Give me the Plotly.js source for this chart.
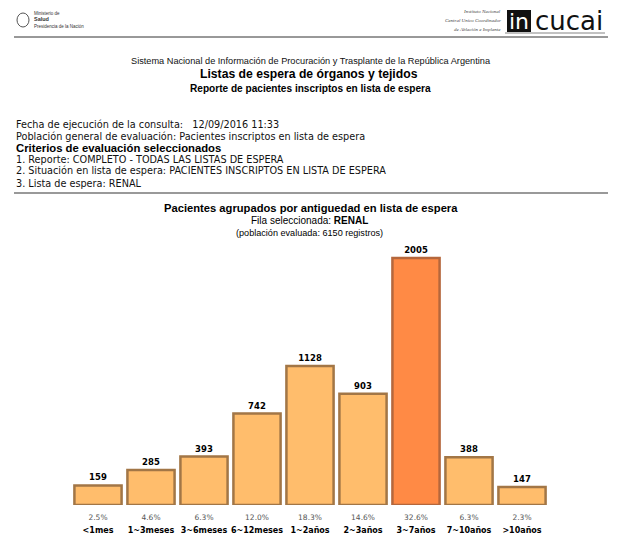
<!DOCTYPE html>
<html><head><meta charset="utf-8">
<script src="https://cdn.plot.ly/plotly-3.0.1.min.js"></script>
<style>html,body{margin:0;padding:0;background:#fff;}#chart{width:623px;height:551px;}</style>
</head><body><div id="chart"></div>
<script>
const categories = ['<1mes','1~3meses','3~6meses','6~12meses','1~2años','2~3años','3~7años','7~10años','>10años'];
const counts = [159, 285, 393, 742, 1128, 903, 2005, 388, 147];
const percents = ['2.5%','4.6%','6.3%','12.0%','18.3%','14.6%','32.6%','6.3%','2.3%'];
const highlighted = '3~7años';

const W = 623, H = 551, MB = 46, PH = H - MB;
const px = x => x / W;
const py = y => (PH - y) / PH;

const fill = categories.map(c => c === highlighted ? '#FF8A45' : '#FFBD6C');
const edge = categories.map(c => c === highlighted ? '#B5673C' : '#A27646');

const ticktext = categories.map((c, i) =>
  '<span style="font-size:7.5px;color:#555">' + percents[i] + '</span><br><b><span style="font-size:8px">' +
  c.replace('<','&lt;').replace('>','&gt;') + '</span></b>');

const trace = {
  type: 'bar', x: categories, y: counts,
  marker: {color: fill, line: {color: edge, width: 2.5}},
  texttemplate: '<b>%{y}</b>', textposition: 'outside',
  textfont: {family: 'DejaVu Sans', size: 8.5, color: '#000'},
  cliponaxis: false, hoverinfo: 'none'
};

const A = (x, y, text, o) => Object.assign({xref:'paper', yref:'paper', x: px(x), y: py(y), text: text,
  showarrow:false, xanchor:'center', yanchor:'middle', font:{family:'Liberation Sans', size:10, color:'#000'}}, o||{});
const verd = {family:'DejaVu Sans', size:9.7, color:'#111'};

const annotations = [
  A(311, 61, 'Sistema Nacional de Información de Procuración y Trasplante de la República Argentina', {font:{family:'Liberation Sans', size:9.2, color:'#111'}}),
  A(309, 74, '<b>Listas de espera de órganos y tejidos</b>', {font:{family:'Liberation Sans', size:12.2, color:'#000'}}),
  A(310, 88, '<b>Reporte de pacientes inscriptos en lista de espera</b>', {font:{family:'Liberation Sans', size:10.1, color:'#000'}}),
  A(14, 124, 'Fecha de ejecución de la consulta:   12/09/2016 11:33', {xanchor:'left', font:verd}),
  A(14, 136, 'Población general de evaluación: Pacientes inscriptos en lista de espera', {xanchor:'left', font:verd}),
  A(14, 148, '<b>Criterios de evaluación seleccionados</b>', {xanchor:'left', font:{family:'Liberation Sans', size:11.3, color:'#000'}}),
  A(14, 160, '1. Reporte: COMPLETO - TODAS LAS LISTAS DE ESPERA', {xanchor:'left', font:verd}),
  A(14, 171, '2. Situación en lista de espera: PACIENTES INSCRIPTOS EN LISTA DE ESPERA', {xanchor:'left', font:verd}),
  A(14, 183, '3. Lista de espera: RENAL', {xanchor:'left', font:verd}),
  A(311, 208, '<b>Pacientes agrupados por antiguedad en lista de espera</b>', {font:{family:'Liberation Sans', size:11.2, color:'#000'}}),
  A(309, 220, 'Fila seleccionada: <b>RENAL</b>', {font:{family:'Liberation Sans', size:10, color:'#000'}}),
  A(309, 233, '(población evaluada: 6150 registros)', {font:{family:'Liberation Sans', size:9.1, color:'#000'}}),
  // logos
  A(32, 13, 'Ministerio de', {xanchor:'left', font:{family:'Liberation Sans', size:4.5, color:'#333'}}),
  A(32, 19, '<b>Salud</b>', {xanchor:'left', font:{family:'Liberation Sans', size:5.5, color:'#333'}}),
  A(32, 26, 'Presidencia de la Nación', {xanchor:'left', font:{family:'Liberation Sans', size:4.5, color:'#333'}}),
  A(503, 11, '<i>Instituto Nacional</i>', {xanchor:'right', font:{family:'Liberation Serif', size:5, color:'#444'}}),
  A(503, 20, '<i>Central Unico Coordinador</i>', {xanchor:'right', font:{family:'Liberation Serif', size:5, color:'#444'}}),
  A(503, 29, '<i>de Ablación e Implante</i>', {xanchor:'right', font:{family:'Liberation Serif', size:5, color:'#444'}}),
  A(519, 21, 'in', {font:{family:'DejaVu Sans', size:22, color:'#fff'}}),
  A(569, 21, 'cucai', {font:{family:'DejaVu Sans', size:26, color:'#111'}})
];

const shapes = [
  {type:'line', xref:'paper', yref:'paper', x0:px(14), x1:px(608), y0:py(37), y1:py(37), line:{color:'#333', width:1}},
  {type:'line', xref:'paper', yref:'paper', x0:px(14), x1:px(608), y0:py(193), y1:py(193), line:{color:'#999', width:2}},
  {type:'rect', xref:'paper', yref:'paper', x0:px(507), x1:px(531), y0:py(32), y1:py(10), fillcolor:'#111', line:{width:0}},
  {type:'circle', xref:'paper', yref:'paper', x0:px(17), x1:px(29), y0:py(27), y1:py(13), fillcolor:'#fff', line:{color:'#555', width:1}},
  {type:'line', xref:'paper', yref:'paper', x0:px(505), x1:px(605), y0:py(33), y1:py(33), line:{color:'#666', width:0.8}}
];

const layout = {
  width: W, height: H,
  margin: {l:0, r:0, t:0, b:MB, pad:0},
  paper_bgcolor:'#fff', plot_bgcolor:'#fff',
  showlegend:false, bargap: 0.11,
  xaxis: {type:'category', range:[-98/53, 623/53 - 98/53], tickvals: categories, ticktext: ticktext,
    tickangle: 0, automargin:false, ticklabelstandoff: 4,
    showgrid:false, zeroline:false, showline:false, ticks:'', ticklen:0,
    tickfont:{family:'DejaVu Sans', size:10, color:'#000'}, fixedrange:true},
  yaxis: {range:[0, PH * 2005 / 247], visible:false, showgrid:false, zeroline:false, fixedrange:true},
  annotations: annotations, shapes: shapes
};

Plotly.newPlot('chart', [trace], layout, {displayModeBar:false, staticPlot:true});
</script>
</body></html>
